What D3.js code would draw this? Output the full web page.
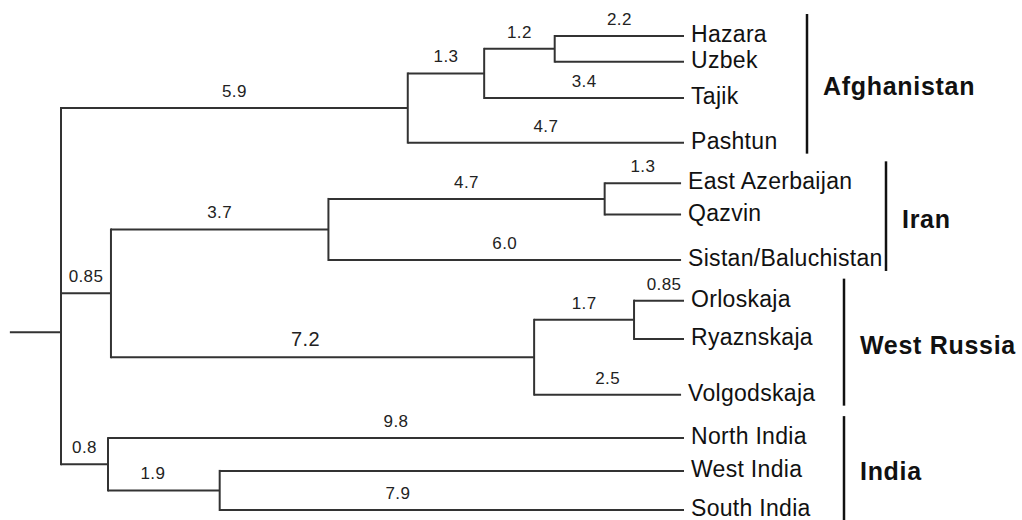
<!DOCTYPE html>
<html>
<head>
<meta charset="utf-8">
<script src="https://cdn.jsdelivr.net/npm/d3@7"></script>
<style>
  body { margin: 0; background: #fff; }
  svg { display: block; font-family: "Liberation Sans", Arial, sans-serif; }
</style>
</head>
<body>
<svg width="1022" height="520"></svg>
<script>
// tree, one row per node: id, parent, branch length
var nodeIds = ["root", "A", "A1", "A2", "Hazara", "Uzbek", "Tajik", "Pashtun",
  "IW", "I", "I1", "East Azerbaijan", "Qazvin", "Sistan/Baluchistan",
  "W", "W1", "Orloskaja", "Ryaznskaja", "Volgodskaja",
  "N", "North India", "N1", "West India", "South India"];
var nodeParents = ["", "root", "A", "A1", "A2", "A2", "A1", "A",
  "root", "IW", "I", "I1", "I1", "I",
  "IW", "W", "W1", "W1", "W",
  "root", "N", "N", "N1", "N1"];
var branchLengths = [0, 5.9, 1.3, 1.2, 2.2, 2.2, 3.4, 4.7,
  0.85, 3.7, 4.7, 1.3, 1.3, 6.0,
  7.2, 1.7, 0.85, 0.85, 2.5,
  0.8, 9.8, 1.9, 7.9, 7.9];
// which branches carry a printed length
var branchLabels = ["", "5.9", "1.3", "1.2", "2.2", "", "3.4", "4.7",
  "0.85", "3.7", "4.7", "1.3", "", "6.0",
  "7.2", "1.7", "0.85", "", "2.5",
  "0.8", "9.8", "1.9", "", "7.9"];

// leaf order and vertical row (in row units)
var taxa = ["Hazara", "Uzbek", "Tajik", "Pashtun", "East Azerbaijan", "Qazvin",
  "Sistan/Baluchistan", "Orloskaja", "Ryaznskaja", "Volgodskaja",
  "North India", "West India", "South India"];
var taxonRows = [0, 0.65, 1.57, 2.7, 3.73, 4.52, 5.67, 6.7, 7.67, 9.08, 10.18, 11.01, 12];
var rootRow = 7.5;
var rootStub = 0.87;

var groups = ["Afghanistan", "Iran", "West Russia", "India"];
var groupFirst = ["Hazara", "East Azerbaijan", "Orloskaja", "North India"];
var groupLast = ["Pashtun", "Sistan/Baluchistan", "Volgodskaja", "South India"];

var svg = d3.select("svg");
var ink = "#333";

var x = d3.scaleLinear().domain([0, 10.6]).range([61, 684]);
var y = d3.scaleLinear().domain([0, 12]).range([36, 510]);

var table = nodeIds.map(function (id, i) {
  return { id: id, parent: nodeParents[i], len: branchLengths[i], label: branchLabels[i] };
});
var root = d3.stratify().id(function (d) { return d.id; })
  .parentId(function (d) { return d.parent || null; })(table);

root.eachBefore(function (n) {
  n.dist = n.parent ? n.parent.dist + n.data.len : 0;
});
root.eachAfter(function (n) {
  if (!n.children) {
    n.row = taxonRows[taxa.indexOf(n.id)];
  } else {
    n.row = (n.children[0].row + n.children[n.children.length - 1].row) / 2;
  }
});

var lines = svg.append("g")
  .attr("stroke", ink).attr("stroke-width", 2).attr("fill", "none");

// root stub
lines.append("line")
  .attr("x1", x(-rootStub)).attr("x2", x(0))
  .attr("y1", y(rootRow)).attr("y2", y(rootRow));

// vertical bars of internal nodes
lines.selectAll("line.v")
  .data(root.descendants().filter(function (n) { return n.children; }))
  .enter().append("line")
  .attr("class", "v")
  .attr("x1", function (n) { return x(n.dist); })
  .attr("x2", function (n) { return x(n.dist); })
  .attr("y1", function (n) { return y(n.children[0].row) - 1; })
  .attr("y2", function (n) { return y(n.children[n.children.length - 1].row) + 1; });

// horizontal branches
lines.selectAll("line.h")
  .data(root.descendants().filter(function (n) { return n.parent; }))
  .enter().append("line")
  .attr("class", "h")
  .attr("x1", function (n) { return x(n.parent.dist); })
  .attr("x2", function (n) { return x(n.dist); })
  .attr("y1", function (n) { return y(n.row); })
  .attr("y2", function (n) { return y(n.row); });

// branch length labels
var nudge = { "W": -17, "N1": -11, "South India": -54, "Orloskaja": 5 };
svg.append("g").selectAll("text")
  .data(root.descendants().filter(function (n) { return n.data.label; }))
  .enter().append("text")
  .attr("x", function (n) { return (x(n.parent.dist) + x(n.dist)) / 2 + (nudge[n.id] || 0); })
  .attr("y", function (n) { return y(n.row) - 11; })
  .attr("text-anchor", "middle")
  .attr("font-size", function (n) { return n.id === "W" ? 20 : 17; })
  .attr("letter-spacing", 0.4)
  .attr("fill", "#222")
  .text(function (n) { return n.data.label; });

// leaf names
svg.append("g").selectAll("text")
  .data(root.leaves())
  .enter().append("text")
  .attr("x", function (n) { return x(n.dist) + 7; })
  .attr("y", function (n) { return y(n.row) + 6; })
  .attr("font-size", 23)
  .attr("letter-spacing", 0.3)
  .attr("fill", "#111")
  .text(function (n) { return n.id; });

// group bars and names (bar offset from the tips, in px)
var barOffset = [123, 202, 160, 160];
var tipX = x(10.6);

var grp = svg.append("g");
groups.forEach(function (g, i) {
  var i0 = taxa.indexOf(groupFirst[i]), i1 = taxa.indexOf(groupLast[i]);
  var bx = tipX + barOffset[i];
  var y0 = y(taxonRows[i0]) - 22, y1 = y(taxonRows[i1]) + 11;
  grp.append("line")
    .attr("x1", bx).attr("x2", bx).attr("y1", y0).attr("y2", y1)
    .attr("stroke", "#111").attr("stroke-width", 2.5);
  grp.append("text")
    .attr("x", bx + 16)
    .attr("y", (y(taxonRows[i0]) + y(taxonRows[i1])) / 2 + 6)
    .attr("font-size", 25)
    .attr("font-weight", "bold")
    .attr("letter-spacing", 0.7)
    .attr("fill", "#111")
    .text(g);
});
</script>
</body>
</html>
